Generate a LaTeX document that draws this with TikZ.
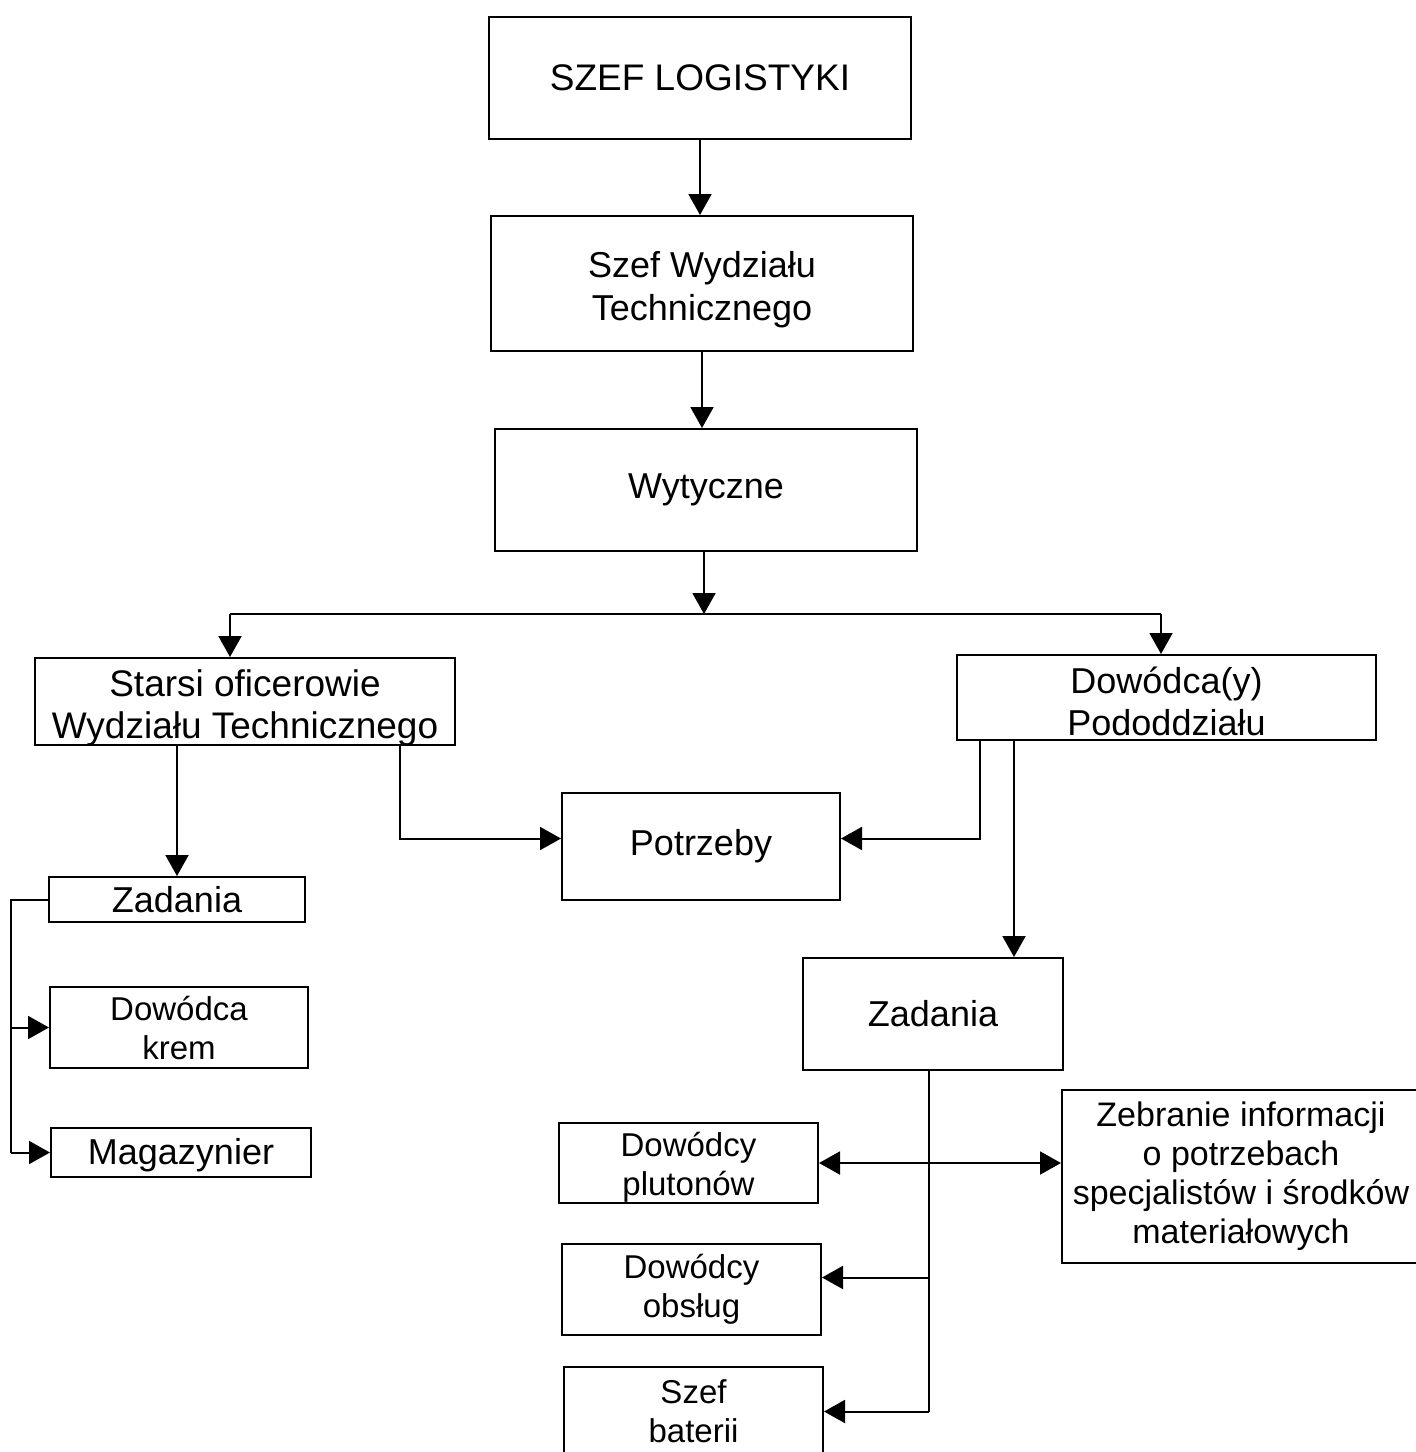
\documentclass[tikz,border=0pt]{standalone}
\usepackage{fontspec}
\setmainfont{Liberation Sans}
\usetikzlibrary{arrows.meta}
% lower a (possibly multi-line) text block without changing its reported size
\newcommand\shiftdown[2]{\raisebox{-#1}[\height][\depth]{\begin{tabular}{@{}c@{}}#2\end{tabular}}}
\begin{document}
\begin{tikzpicture}[x=0.5pt,y=-0.5pt,
  box/.style={draw, line width=1pt, inner sep=0pt, align=center,
    font=\fontsize{18}{21}\selectfont},
  small/.style={font=\fontsize{16.5}{19.5}\selectfont},
  arr/.style={line width=1pt, -{Triangle[length=10.5pt,width=11.5pt]}},
  arrtwo/.style={line width=1pt, {Triangle[length=10.5pt,width=11.5pt]}-{Triangle[length=10.5pt,width=11.5pt]}},
  line/.style={line width=1pt}]
\useasboundingbox (0,0) rectangle (1416,1452);

% boxes
\node[box, minimum width=211pt, minimum height=61pt, font=\fontsize{18.5}{21}\selectfont] (szef) at (700,78) {SZEF LOGISTYKI};
\node[box, minimum width=211pt, minimum height=67.5pt, font=\fontsize{18}{21.5}\selectfont] (swt) at (702,283.5)
  {\shiftdown{3.5pt}{Szef Wydziału\\Technicznego}};
\node[box, minimum width=211pt, minimum height=61pt] (wyt) at (706,490) {Wytyczne};
\node[box, minimum width=210pt, minimum height=43.5pt, font=\fontsize{18.5}{21}\selectfont] (starsi) at (245,701.5)
  {\shiftdown{4pt}{Starsi oficerowie\\Wydziału Technicznego}};
\node[box, minimum width=209.5pt, minimum height=42.5pt] (dow) at (1166.5,697.5)
  {\shiftdown{4.5pt}{Dowódca(y)\\Pododdziału}};
\node[box, minimum width=139pt, minimum height=53.5pt] (potrz) at (701,846.5) {Potrzeby};
\node[box, minimum width=128pt, minimum height=22.5pt] (zadL) at (177,899.5) {Zadania};
\node[box, small, minimum width=129pt, minimum height=40.5pt] (dk) at (179,1027.5) {Dowódca\\krem};
\node[box, minimum width=130pt, minimum height=24.5pt] (mag) at (181,1152.5) {\shiftdown{2pt}{Magazynier}};
\node[box, minimum width=130pt, minimum height=56pt] (zadR) at (933,1014) {Zadania};
\node[box, small, minimum width=129.5pt, minimum height=40pt] (dp) at (688.5,1163)
  {\shiftdown{2.5pt}{Dowódcy\\plutonów}};
\node[box, small, minimum width=129.5pt, minimum height=45.5pt] (dob) at (691.5,1289.5) {Dowódcy\\obsług};
\node[box, small, minimum width=129.5pt, minimum height=44.5pt] (sb) at (693.5,1411.5) {Szef\\baterii};
\node[box, minimum width=179pt, minimum height=86.5pt, font=\fontsize{17}{19.5}\selectfont] (zeb) at (1241,1176.5)
  {Zebranie informacji\\o potrzebach\\specjalistów i środków\\materiałowych};

% top chain
\draw[arr] (szef.south) -- (szef.south |- swt.north);
\draw[arr] (swt.south) -- (swt.south |- wyt.north);
\coordinate (split) at (704,614);
\coordinate (jl) at (230,614);
\coordinate (jr) at (1161,614);
\draw[arr] (split |- wyt.south) -- (split);
\draw[line] (jl) -- (jr);
\draw[arr] (jl) -- (jl |- starsi.north);
\draw[arr] (jr) -- (jr |- dow.north);

% left branch
\draw[arr] (zadL.north |- starsi.south) -- (zadL.north);
\draw[arr] ([xshift=-28pt]starsi.south east) |- ([yshift=4pt]potrz.west);
\draw[line] (zadL.west) -- ++(-37,0) coordinate (bx) -- (bx |- mag.west);
\draw[arr] (bx |- dk.west) -- (dk.west);
\draw[arr] (bx |- mag.west) -- (mag.west);

% right branch
\draw[arr] ([xshift=12pt]dow.south west) |- ([yshift=4pt]potrz.east);
\draw[arr] ([xshift=29pt]dow.south west) -- ([xshift=29pt]dow.south west |- zadR.north);
\draw[line] ([xshift=-2pt]zadR.south) -- ([xshift=-2pt]zadR.south |- sb.east) coordinate (bot);
\draw[arrtwo] (dp.east) -- (dp.east -| zeb.west);
\draw[arr] (bot |- dob.east) ++(0,-12) -- ([yshift=6pt]dob.east);
\draw[arr] (bot) -- (sb.east);
\end{tikzpicture}
\end{document}
